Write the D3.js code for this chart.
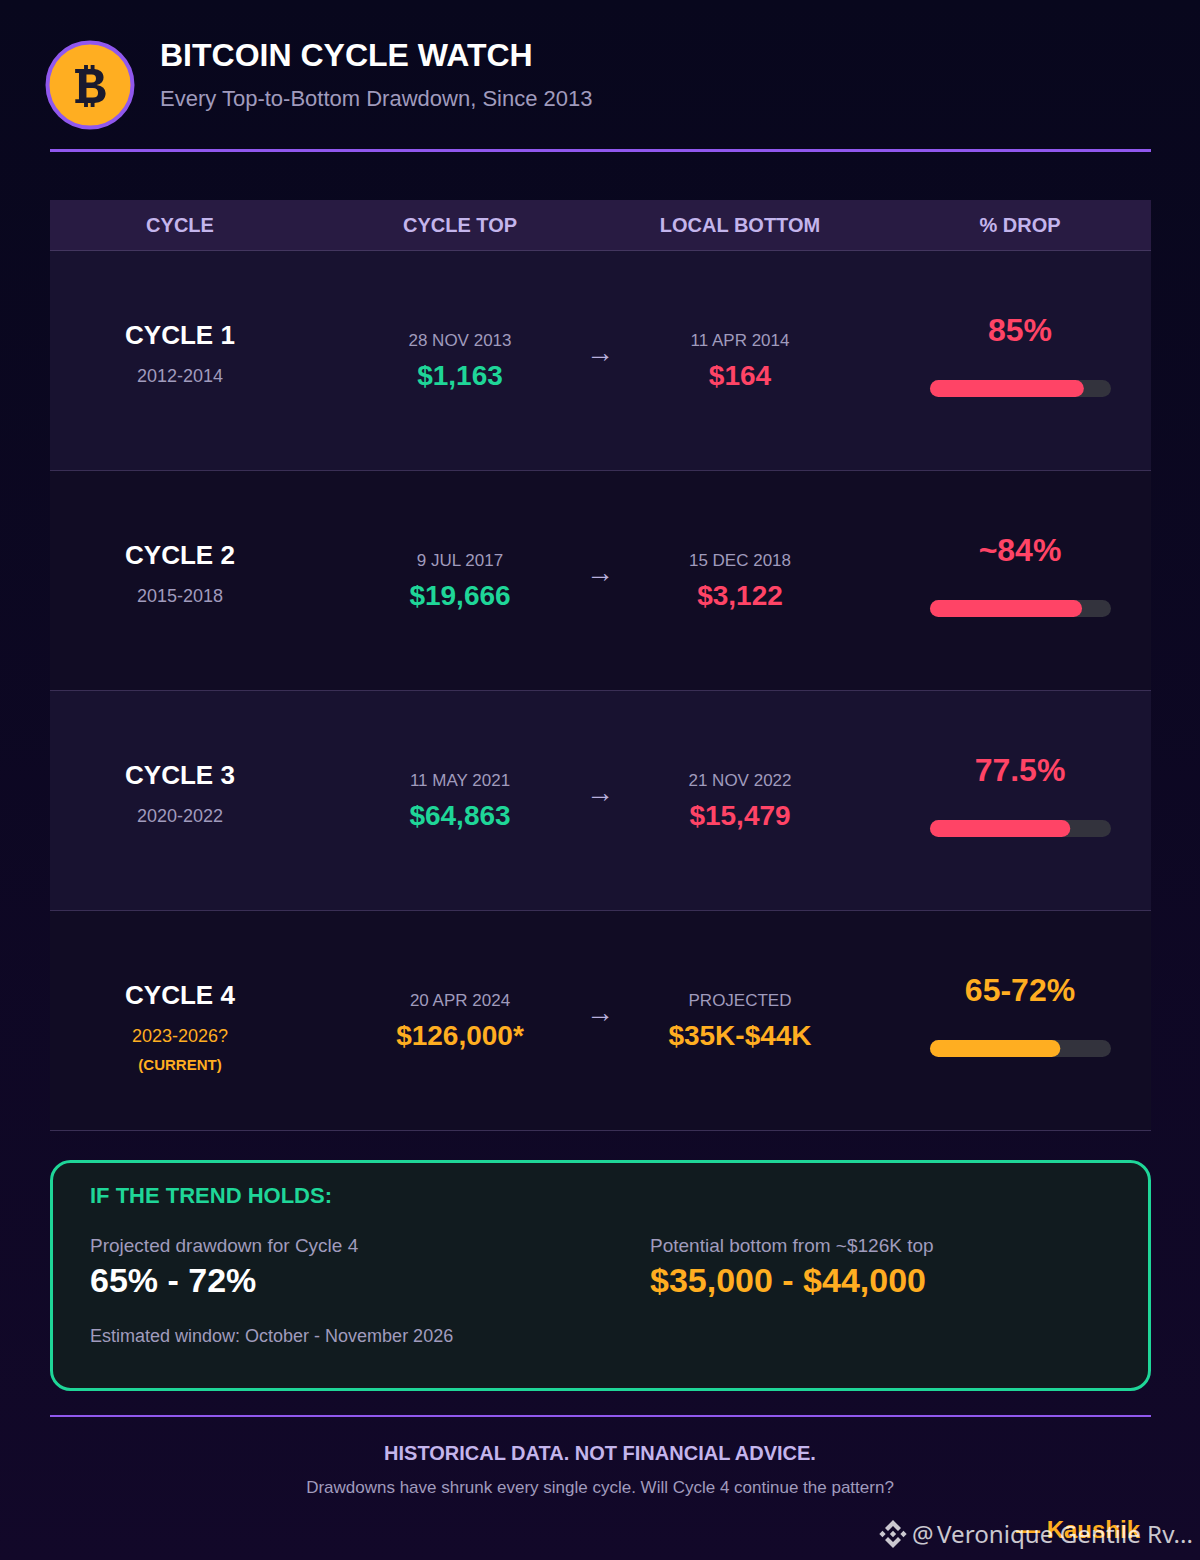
<!DOCTYPE html>
<html>
<head>
<meta charset="utf-8">
<script src="https://cdn.jsdelivr.net/npm/d3@7"></script>
<style>
html, body { margin: 0; padding: 0; background: #0a0618; }
svg { display: block; font-family: "Liberation Sans", Arial, sans-serif; }
</style>
</head>
<body>
<svg id="drawing_region"></svg>
<script>
const headers = ['CYCLE', 'CYCLE TOP', 'LOCAL BOTTOM', '% DROP'];
const cycles = ['CYCLE 1', 'CYCLE 2', 'CYCLE 3', 'CYCLE 4'];
const years = ['2012-2014', '2015-2018', '2020-2022', '2023-2026?'];
const topDates = ['28 NOV 2013', '9 JUL 2017', '11 MAY 2021', '20 APR 2024'];
const topPrices = ['$1,163', '$19,666', '$64,863', '$126,000*'];
const bottomDates = ['11 APR 2014', '15 DEC 2018', '21 NOV 2022', 'PROJECTED'];
const bottomPrices = ['$164', '$3,122', '$15,479', '$35K-$44K'];
const dropLabels = ['85%', '~84%', '77.5%', '65-72%'];
const dropValues = [85, 84, 77.5, 72];

const width = 1200, height = 1560;
const left = 50, right = 1151;
const green = '#1fd698', red = '#ff4466', amber = '#ffae21', purple = '#9058ee';
const muted = '#a09bbd', lilac = '#c4b5ec';

const svg = d3.select('#drawing_region').attr('width', width).attr('height', height);

const defs = svg.append('defs');
const bg = defs.append('linearGradient').attr('id', 'bg')
    .attr('x1', 0).attr('y1', 0).attr('x2', 0).attr('y2', 1);
bg.append('stop').attr('offset', '0%').attr('stop-color', '#08071d');
bg.append('stop').attr('offset', '100%').attr('stop-color', '#120829');

svg.append('rect').attr('width', width).attr('height', height).attr('fill', 'url(#bg)');

function label(parent, x, y, txt, size, color, weight, anchor) {
    return parent.append('text')
        .attr('x', x).attr('y', y)
        .attr('text-anchor', anchor || 'middle')
        .attr('font-size', size)
        .attr('font-weight', weight || 'normal')
        .attr('fill', color)
        .text(txt);
}

// header block
svg.append('circle').attr('cx', 90).attr('cy', 85).attr('r', 42.5)
    .attr('fill', amber).attr('stroke', purple).attr('stroke-width', 4);
label(svg, 90, 103, '₿', 52, '#1a1a2e', 'bold').style('font-family', '"Liberation Mono"');
label(svg, 160, 66, 'BITCOIN CYCLE WATCH', 32, '#ffffff', 'bold', 'start');
label(svg, 160, 106, 'Every Top-to-Bottom Drawdown, Since 2013', 22, muted, 'normal', 'start');
svg.append('rect').attr('x', left).attr('y', 149).attr('width', right - left).attr('height', 3).attr('fill', purple);

// column positions
const xcol = d3.scalePoint().domain(headers).range([180, 1020]);

// table header
svg.append('rect').attr('x', left).attr('y', 200).attr('width', right - left).attr('height', 50).attr('fill', '#281b42');
svg.append('rect').attr('x', left).attr('y', 250).attr('width', right - left).attr('height', 1).attr('fill', '#43365f');
headers.forEach(h => label(svg, xcol(h), 232, h, 20, lilac, 'bold'));

// rows
const yrow = d3.scaleBand().domain(cycles).range([250, 1130]);
const xdrop = d3.scaleLinear().domain([0, 100]).range([0, 181]);

const rows = svg.selectAll('g.row')
    .data(cycles)
    .join('g')
    .attr('class', 'row')
    .attr('transform', d => `translate(0, ${yrow(d)})`);

rows.each(function (d, i) {
    const g = d3.select(this);
    const current = i === 3;
    g.append('rect').attr('x', left).attr('y', 1).attr('width', right - left).attr('height', yrow.bandwidth())
        .attr('fill', i % 2 === 0 ? '#181230' : '#110c24');
    g.append('rect').attr('x', left).attr('y', yrow.bandwidth()).attr('width', right - left).attr('height', 1)
        .attr('fill', '#3a2f55');

    label(g, xcol(headers[0]), 94, d, 26, '#ffffff', 'bold');
    label(g, xcol(headers[0]), 132, years[i], 18, current ? amber : muted);
    if (current) label(g, xcol(headers[0]), 160, '(CURRENT)', 15, amber, 'bold');

    label(g, xcol(headers[1]), 96, topDates[i], 17, muted);
    label(g, xcol(headers[1]), 135, topPrices[i], 28, current ? amber : green, 'bold');
    label(g, 600, 112, '→', 28, '#b9b0dc');
    label(g, xcol(headers[2]), 96, bottomDates[i], 17, muted);
    label(g, xcol(headers[2]), 135, bottomPrices[i], 28, current ? amber : red, 'bold');

    label(g, xcol(headers[3]), 91, dropLabels[i], 32, current ? amber : red, 'bold');
    g.append('rect').attr('x', 930).attr('y', 130).attr('width', xdrop(100)).attr('height', 17).attr('rx', 8.5)
        .attr('fill', '#33333d');
    g.append('rect').attr('x', 930).attr('y', 130).attr('width', xdrop(dropValues[i])).attr('height', 17).attr('rx', 8.5)
        .attr('fill', current ? amber : red);
});

// projection box
svg.append('rect').attr('x', 51.5).attr('y', 1161.5).attr('width', 1098).attr('height', 228).attr('rx', 19)
    .attr('fill', '#111b1f').attr('stroke', green).attr('stroke-width', 3);
label(svg, 90, 1203, 'IF THE TREND HOLDS:', 22, green, 'bold', 'start');
label(svg, 90, 1252, 'Projected drawdown for Cycle 4', 19, muted, 'normal', 'start');
label(svg, 90, 1292, '65% - 72%', 34, '#ffffff', 'bold', 'start');
label(svg, 650, 1252, 'Potential bottom from ~$126K top', 19, muted, 'normal', 'start');
label(svg, 650, 1292, '$35,000 - $44,000', 34, amber, 'bold', 'start');
label(svg, 90, 1342, 'Estimated window: October - November 2026', 18, muted, 'normal', 'start');

// footer
svg.append('rect').attr('x', left).attr('y', 1415).attr('width', right - left).attr('height', 2).attr('fill', purple);
label(svg, 600, 1460, 'HISTORICAL DATA. NOT FINANCIAL ADVICE.', 20, lilac, 'bold');
label(svg, 600, 1493, 'Drawdowns have shrunk every single cycle. Will Cycle 4 continue the pattern?', 17, muted);
label(svg, 1140, 1538, '— Kaushik', 24, amber, 'bold', 'end');

// watermark, sits over the page text
const mark = svg.append('g').attr('transform', 'translate(893, 1534)').attr('fill', '#ffffff').attr('fill-opacity', 0.78);
mark.append('path').attr('d', 'M0,-14L8,-6L5,-3L0,-8L-5,-3L-8,-6Z');
mark.append('path').attr('d', 'M0,14L8,6L5,3L0,8L-5,3L-8,6Z');
[[-10.5, 0], [0, 0], [10.5, 0]].forEach(p => {
    mark.append('path').attr('d', d3.symbol(d3.symbolSquare, 20)()).attr('transform', `translate(${p[0]}, ${p[1]}) rotate(45)`);
});
const wm = svg.append('g').attr('fill-opacity', 0.78).style('font-family', '"Noto Sans"');
label(wm, 912, 1543, '@', 24, '#ffffff', 'normal', 'start');
label(wm, 937, 1543, 'Veronique Gentile Rv...', 24.2, '#ffffff', 'normal', 'start');
</script>
</body>
</html>
